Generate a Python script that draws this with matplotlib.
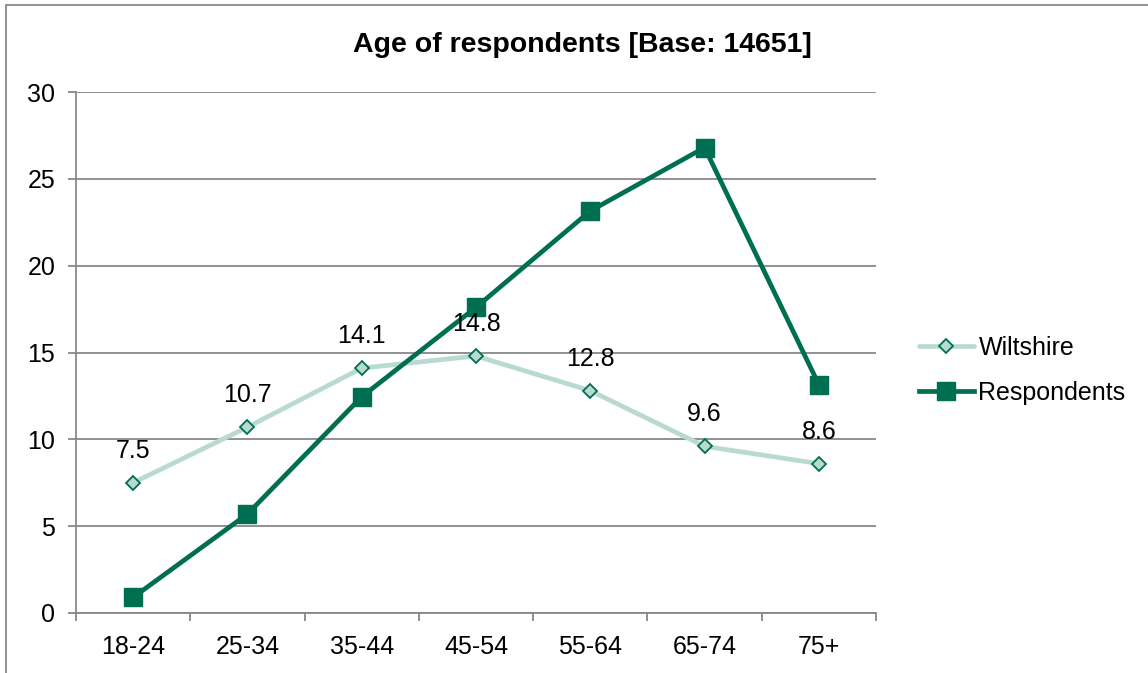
import matplotlib
matplotlib.use("Agg")
import matplotlib.pyplot as plt
from matplotlib.patches import Rectangle

categories = ["18-24", "25-34", "35-44", "45-54", "55-64", "65-74", "75+"]
wiltshire = [7.5, 10.7, 14.1, 14.8, 12.8, 9.6, 8.6]
respondents = [0.9, 5.7, 12.45, 17.6, 23.15, 26.8, 13.15]
yticks = [0, 5, 10, 15, 20, 25, 30]
title = "Age of respondents [Base: 14651]"

plt.rcParams['font.family'] = ['Liberation Sans', 'DejaVu Sans']

fig = plt.figure(figsize=(11.48, 6.73), dpi=100)
ax = fig.add_axes([76/1148, 60/673, 800/1148, 521/673])

grid_c = "#888888"
x = list(range(len(categories)))
fs = 18

ax.plot(x, wiltshire, color="#B9DAD2", lw=3.4, marker="D", markersize=7,
        markerfacecolor="#B9DAD2", markeredgecolor="#00704F", markeredgewidth=1.3,
        label="Wiltshire", zorder=3, solid_capstyle="round")
ax.plot(x, respondents, color="#006E51", lw=3.4, marker="s", markersize=13,
        markerfacecolor="#006E51", markeredgecolor="#006E51",
        label="Respondents", zorder=4)

for xi, v in zip(x, wiltshire):
    ax.annotate(f"{v}", (xi, v), xytext=(0, 23), textcoords="offset points",
                ha="center", va="center", fontsize=fs, color="black", zorder=5)

ax.set_xlim(-0.5, len(categories) - 0.5)
ax.set_ylim(0, 30)
ax.set_yticks(yticks)
ax.set_yticklabels([str(t) for t in yticks], fontsize=fs)
ax.yaxis.grid(True, color=grid_c, lw=1.3)
ax.set_axisbelow(True)

ax.set_xticks(x)
ax.set_xticklabels(categories, fontsize=fs)
ax.tick_params(axis="x", which="major", length=0, pad=16)
ax.set_xticks([i - 0.5 for i in range(len(categories) + 1)], minor=True)
ax.tick_params(axis="x", which="minor", length=6, width=1.3, color=grid_c, direction="out")
ax.tick_params(axis="y", length=6, width=1.3, color=grid_c, pad=9)

for s in ["top", "right"]:
    ax.spines[s].set_visible(False)
for s in ["left", "bottom"]:
    ax.spines[s].set_color(grid_c)
    ax.spines[s].set_linewidth(1.3)

fig.text(582/1148, 1 - 45/673, title, ha="center", va="center",
         fontsize=20.5, fontweight="bold")

leg = ax.legend(loc="center left", bbox_to_anchor=(1.025, 0.466), frameon=False,
                fontsize=fs, handlelength=2.2, handletextpad=0.2, labelspacing=0.85)

fig.patches.append(Rectangle((6/1148, -0.1), 2, 1.1 - 5/673, transform=fig.transFigure,
                             fill=False, edgecolor="#888888", lw=1.3))

fig.savefig("out.png", dpi=100)
